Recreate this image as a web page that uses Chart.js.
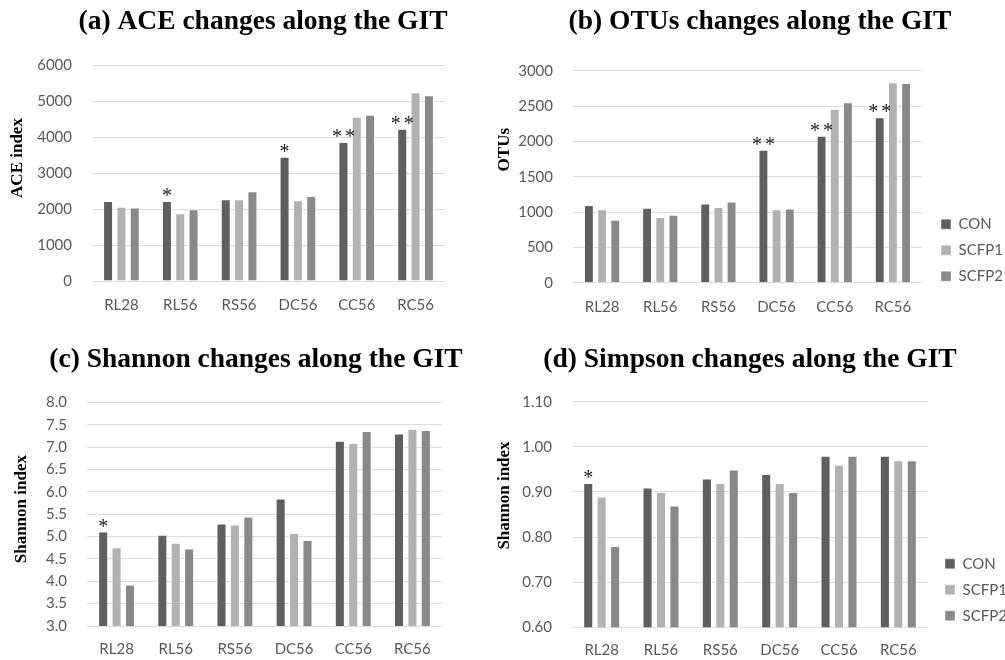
<!DOCTYPE html>
<html>
<head>
<meta charset="utf-8">
<script src="https://cdn.jsdelivr.net/npm/chart.js@4.4.1/dist/chart.umd.min.js"></script>
<style>
html, body { margin: 0; padding: 0; background: #fff; width: 1005px; height: 660px; overflow: hidden; position: relative; }
canvas { position: absolute; }
</style>
</head>
<body>
<canvas id="chartA" width="470" height="330" style="left:0;top:0"></canvas>
<canvas id="chartB" width="540" height="332" style="left:490px;top:0"></canvas>
<canvas id="chartC" width="470" height="345" style="left:0;top:330px"></canvas>
<canvas id="chartD" width="520" height="345" style="left:490px;top:330px"></canvas>
<script>
// Categories and series
const categories = ['RL28', 'RL56', 'RS56', 'DC56', 'CC56', 'RC56'];
const seriesNames = ['CON', 'SCFP1', 'SCFP2'];
const seriesColors = ['#5f5f5f', '#b2b2b2', '#898989'];

// (a) ACE
const aceCon = [2220, 2220, 2270, 3450, 3860, 4230];
const aceScfp1 = [2060, 1880, 2270, 2240, 4560, 5240];
const aceScfp2 = [2040, 1990, 2490, 2360, 4620, 5160];
const aceStars = ['', '*', '', '*', '**', '**'];

// (b) OTUs
const otuCon = [1100, 1060, 1120, 1880, 2080, 2340];
const otuScfp1 = [1040, 930, 1070, 1040, 2460, 2835];
const otuScfp2 = [890, 960, 1150, 1050, 2555, 2825];
const otuStars = ['', '', '', '**', '**', '**'];

// (c) Shannon
const shanCon = [5.11, 5.04, 5.29, 5.85, 7.14, 7.30];
const shanScfp1 = [4.76, 4.86, 5.27, 5.08, 7.09, 7.41];
const shanScfp2 = [3.93, 4.73, 5.45, 4.92, 7.36, 7.38];
const shanStars = ['*', '', '', '', '', ''];

// (d) Simpson
const simpCon = [0.92, 0.91, 0.93, 0.94, 0.98, 0.98];
const simpScfp1 = [0.89, 0.90, 0.92, 0.92, 0.96, 0.97];
const simpScfp2 = [0.78, 0.87, 0.95, 0.90, 0.98, 0.97];
const simpStars = ['*', '', '', '', '', ''];

Chart.defaults.font.family = 'Lato, "Open Sans", sans-serif';
Chart.defaults.color = '#595959';

const serifFont = '"Liberation Serif", "Times New Roman", serif';

// Significance stars above the CON bars
const starPlugin = {
    id: 'stars',
    afterDatasetsDraw(chart, args, opts) {
        const bars = chart.getDatasetMeta(0).data;
        const ctx = chart.ctx;
        ctx.save();
        ctx.font = '20px ' + serifFont;
        ctx.fillStyle = '#1a1a1a';
        ctx.textAlign = 'center';
        ctx.textBaseline = 'alphabetic';
        ctx.letterSpacing = '3px';
        opts.labels.forEach((s, i) => {
            if (s) ctx.fillText(s, bars[i].x + 1.5, bars[i].y + 1);
        });
        ctx.restore();
    }
};

// Excel puts the title over the whole chart object, the legend low next to
// the plot and the axis title a bit high, so move those boxes after layout
const layoutNudge = {
    id: 'layoutNudge',
    afterLayout(chart, args, opts) {
        const tb = chart.titleBlock;
        if (tb && opts.titleX) {
            const half = (tb.right - tb.left) / 2;
            tb.left = opts.titleX - half;
            tb.right = opts.titleX + half;
        }
        const lg = chart.legend;
        if (lg && opts.legend) {
            lg.left += opts.dx;
            lg.right += opts.dx + 40;
            lg.top += opts.dy;
            lg.bottom += opts.dy;
        }
    },
    // the y title reads top/bottom while the scale draws; put them back
    // before the bars, which clip to the same box
    beforeDraw(chart, args, opts) {
        const ys = chart.scales.y;
        if (ys && opts.yTitleUp) {
            ys.top -= opts.yTitleUp;
            ys.bottom -= opts.yTitleUp;
        }
    },
    beforeDatasetsDraw(chart, args, opts) {
        const ys = chart.scales.y;
        if (ys && opts.yTitleUp) {
            ys.top += opts.yTitleUp;
            ys.bottom += opts.yTitleUp;
        }
    }
};

function makeChart(id, values, stars, cfg) {
    const ctx = document.getElementById(id).getContext('2d');
    return new Chart(ctx, {
        type: 'bar',
        data: {
            labels: categories,
            datasets: values.map((v, i) => ({
                label: seriesNames[i],
                data: v,
                backgroundColor: seriesColors[i],
                borderColor: 'rgba(255,255,255,0.4)',
                borderWidth: 1,
                categoryPercentage: 0.68,
                barPercentage: 0.75
            }))
        },
        options: {
            responsive: false,
            animation: false,
            layout: { padding: { left: 0, right: cfg.padRight, top: 0, bottom: cfg.padBottom } },
            scales: {
                x: {
                    grid: { display: false, drawTicks: false },
                    border: { display: false },
                    ticks: { font: { size: 15 }, color: '#595959', padding: cfg.xPad }
                },
                y: {
                    min: cfg.min,
                    max: cfg.max,
                    afterFit: s => { s.width = cfg.yWidth; },
                    grid: { color: '#dcdcdc', lineWidth: 1, drawTicks: false },
                    border: { display: false },
                    ticks: {
                        stepSize: cfg.step,
                        padding: 20,
                        font: { size: 15 },
                        color: '#595959',
                        callback: v => Number(v).toFixed(cfg.decimals)
                    },
                    title: {
                        display: true,
                        text: cfg.yTitle,
                        color: '#000',
                        font: { family: serifFont, size: 17, weight: 'bold', lineHeight: 1.2 },
                        padding: { top: cfg.yTitlePad, bottom: 0 }
                    }
                }
            },
            plugins: {
                title: {
                    display: true,
                    text: cfg.title,
                    color: '#000',
                    font: { family: serifFont, size: 27.5, weight: 'bold', lineHeight: 1.2 },
                    padding: { top: cfg.titleTop, bottom: cfg.titleBottom }
                },
                legend: {
                    display: cfg.legend,
                    position: 'right',
                    align: 'end',
                    maxWidth: 60,
                    labels: {
                        boxWidth: 10,
                        boxHeight: 10,
                        padding: 11,
                        color: '#595959',
                        font: { size: 15 }
                    }
                },
                tooltip: { enabled: false },
                stars: { labels: stars },
                layoutNudge: {
                    titleX: cfg.titleX, yTitleUp: cfg.yTitleUp,
                    legend: cfg.legend, dx: cfg.dx || 0, dy: cfg.dy || 0
                }
            }
        },
        plugins: [starPlugin, layoutNudge]
    });
}

makeChart('chartA', [aceCon, aceScfp1, aceScfp2], aceStars, {
    title: '(a) ACE changes along the GIT', yTitle: 'ACE index',
    min: 0, max: 6000, step: 1000, decimals: 0,
    yWidth: 92, yTitlePad: 7.8, yTitleUp: 15, titleX: 263, titleTop: 5.6, titleBottom: 26.4,
    padRight: 25, padBottom: 1, xPad: 15, legend: false
});

makeChart('chartB', [otuCon, otuScfp1, otuScfp2], otuStars, {
    title: '(b) OTUs changes along the GIT', yTitle: 'OTUs',
    min: 0, max: 3000, step: 500, decimals: 0,
    yWidth: 83, yTitlePad: 4.8, yTitleUp: 27, titleX: 270, titleTop: 5.6, titleBottom: 32.1,
    padRight: 48, padBottom: 1.3, xPad: 15, legend: true, dx: 8, dy: -36
});

makeChart('chartC', [shanCon, shanScfp1, shanScfp2], shanStars, {
    title: '(c) Shannon changes along the GIT', yTitle: 'Shannon index',
    min: 3, max: 8, step: 0.5, decimals: 1,
    yWidth: 87, yTitlePad: 11.8, yTitleUp: 5, titleX: 256, titleTop: 13.6, titleBottom: 25.7,
    padRight: 28, padBottom: 3, xPad: 14, legend: false
});

makeChart('chartD', [simpCon, simpScfp1, simpScfp2], simpStars, {
    title: '(d) Simpson changes along the GIT', yTitle: 'Shannon index',
    min: 0.6, max: 1.1, step: 0.1, decimals: 2,
    yWidth: 82, yTitlePad: 4.8, yTitleUp: 19, titleX: 260, titleTop: 13.6, titleBottom: 25.1,
    padRight: 22, padBottom: 1.7, xPad: 14, legend: true, dx: 6, dy: -39
});
</script>
</body>
</html>
